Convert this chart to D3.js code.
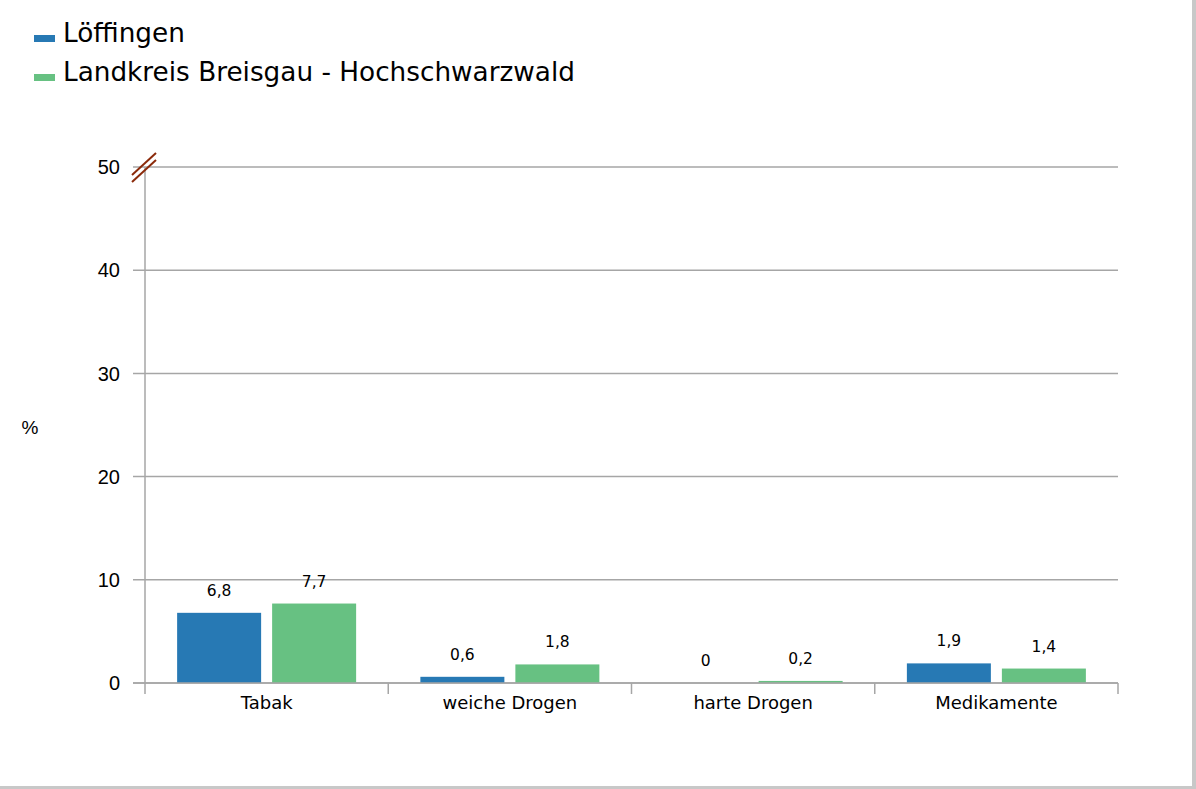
<!DOCTYPE html>
<html>
<head>
<meta charset="utf-8">
<script src="https://cdn.jsdelivr.net/npm/d3@7"></script>
<style>
  body { margin: 0; background: #fff; }
  svg { font-family: "DejaVu Sans", sans-serif; }
</style>
</head>
<body>
<script>
var categories = ["Tabak", "weiche Drogen", "harte Drogen", "Medikamente"];
var seriesNames = ["Löffingen", "Landkreis Breisgau - Hochschwarzwald"];
var loeffingen = [6.8, 0.6, 0, 1.9];
var landkreis = [7.7, 1.8, 0.2, 1.4];
var yTicks = [0, 10, 20, 30, 40, 50];
var colors = ["#2779b4", "#67c182"];

var width = 1196, height = 789;
var margin = {left: 145, right: 78, top: 167, bottom: 106};

var svg = d3.select("body").append("svg")
    .attr("width", width)
    .attr("height", height);

// frame with shadow on right/bottom
svg.append("rect").attr("x", 0).attr("y", 0).attr("width", width).attr("height", height).attr("fill", "#c8c8c8");
svg.append("rect").attr("x", 0).attr("y", 0).attr("width", width - 4).attr("height", height - 3).attr("fill", "#fff");

var x = d3.scaleBand()
    .domain(categories)
    .range([margin.left, width - margin.right]);

var y = d3.scaleLinear()
    .domain([0, 50])
    .range([height - margin.bottom, margin.top]);

var series = [loeffingen, landkreis];

// gridlines + y ticks
svg.append("g")
    .selectAll("line")
    .data(yTicks)
  .enter().append("line")
    .attr("x1", margin.left - 12)
    .attr("x2", width - margin.right)
    .attr("y1", function(d) { return y(d); })
    .attr("y2", function(d) { return y(d); })
    .attr("stroke", "#a6a6a6")
    .attr("stroke-width", 1.5);

svg.append("g")
    .selectAll("text")
    .data(yTicks)
  .enter().append("text")
    .attr("x", margin.left - 25)
    .attr("y", function(d) { return y(d); })
    .attr("dy", "0.36em")
    .attr("text-anchor", "end")
    .style("font-family", "'Liberation Sans', Arial, sans-serif")
    .style("font-size", "20px")
    .attr("fill", "#000")
    .text(function(d) { return d; });

// y axis line
svg.append("line")
    .attr("x1", margin.left).attr("x2", margin.left)
    .attr("y1", y(50)).attr("y2", y(0) + 11)
    .attr("stroke", "#a6a6a6").attr("stroke-width", 1.5);

// category tick marks
var bounds = categories.map(function(c) { return x(c); }).concat([x.range()[1]]);
svg.append("g")
    .selectAll("line")
    .data(bounds.slice(1))
  .enter().append("line")
    .attr("x1", function(d) { return d; })
    .attr("x2", function(d) { return d; })
    .attr("y1", y(0))
    .attr("y2", y(0) + 11)
    .attr("stroke", "#a6a6a6")
    .attr("stroke-width", 1.5);

// bars
var barW = 84, gap = 11;
var pad = (x.bandwidth() - 2 * barW - gap) / 2;
series.forEach(function(vals, s) {
  var g = svg.append("g");
  g.selectAll("rect")
      .data(vals)
    .enter().append("rect")
      .attr("x", function(d, i) { return x(categories[i]) + pad + s * (barW + gap); })
      .attr("y", function(d) { return y(d); })
      .attr("width", barW)
      .attr("height", function(d) { return y(0) - y(d); })
      .attr("fill", colors[s]);
  g.selectAll("text")
      .data(vals)
    .enter().append("text")
      .attr("x", function(d, i) { return x(categories[i]) + pad + s * (barW + gap) + barW / 2; })
      .attr("y", function(d) { return y(d) - 17; })
      .attr("text-anchor", "middle")
      .style("font-size", "15.5px")
      .attr("fill", "#000")
      .text(function(d) { return String(d).replace(".", ","); });
});

// redraw x axis baseline over bars
svg.append("line")
    .attr("x1", margin.left - 12).attr("x2", width - margin.right)
    .attr("y1", y(0)).attr("y2", y(0))
    .attr("stroke", "#a6a6a6").attr("stroke-width", 1.5);

// category labels
svg.append("g")
    .selectAll("text")
    .data(categories)
  .enter().append("text")
    .attr("x", function(d) { return x(d) + x.bandwidth() / 2; })
    .attr("y", y(0) + 26)
    .attr("text-anchor", "middle")
    .style("font-size", "18px")
    .attr("fill", "#000")
    .text(function(d) { return d; });

// axis break marks
var bx = margin.left, by = y(50);
[0, 7].forEach(function(o) {
  svg.append("line")
      .attr("x1", bx - 13).attr("y1", by + 8 + o)
      .attr("x2", bx + 11).attr("y2", by - 14 + o)
      .attr("stroke", "#8b2a0a").attr("stroke-width", 2);
});

// y label
svg.append("text")
    .attr("x", 30).attr("y", 427)
    .attr("dy", "0.36em")
    .attr("text-anchor", "middle")
    .style("font-family", "'Liberation Sans', Arial, sans-serif")
    .style("font-size", "19px")
    .text("%");

// legend
var legend = svg.append("g")
    .selectAll("g")
    .data(seriesNames)
  .enter().append("g")
    .attr("transform", function(d, i) { return "translate(34," + (41 + i * 39) + ")"; });
legend.append("rect")
    .attr("x", 0).attr("y", -6)
    .attr("width", 21).attr("height", 7)
    .attr("fill", function(d, i) { return colors[i]; });
legend.append("text")
    .attr("x", 29).attr("y", 1)
    .style("font-size", "26.3px")
    .attr("fill", "#000")
    .text(function(d) { return d; });
</script>
</body>
</html>
